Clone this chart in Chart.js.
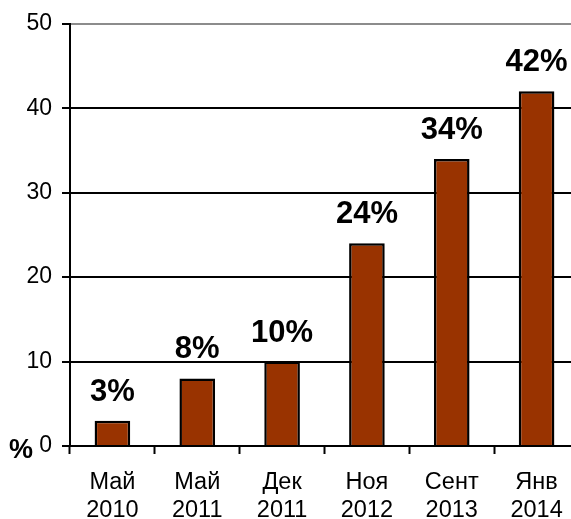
<!DOCTYPE html>
<html>
<head>
<meta charset="utf-8">
<script src="https://cdn.jsdelivr.net/npm/chart.js@4"></script>
<style>
  html, body { margin: 0; padding: 0; background: #fff; overflow: hidden; }
  #wrap { width: 579px; height: 519px; position: relative; }
</style>
</head>
<body>
<div id="wrap"><canvas id="chart"></canvas></div>
<script>
const categories = [['Май', '2010'], ['Май', '2011'], ['Дек', '2011'], ['Ноя', '2012'], ['Сент', '2013'], ['Янв', '2014']];
const values = [3, 8, 10, 24, 34, 42];
const valueLabels = ['3%', '8%', '10%', '24%', '34%', '42%'];
const yTicks = [0, 10, 20, 30, 40, 50];

const fontFamily = "Arial, 'Liberation Sans', sans-serif";

// labels above the bars + the "%" unit near the origin
const labelPlugin = {
    id: 'labelPlugin',
    afterDatasetsDraw(chart) {
        const ctx = chart.ctx;
        const meta = chart.getDatasetMeta(0);
        ctx.save();
        ctx.fillStyle = '#000';
        ctx.font = 'bold 31px ' + fontFamily;
        ctx.textAlign = 'center';
        ctx.textBaseline = 'alphabetic';
        meta.data.forEach((bar, i) => {
            ctx.fillText(valueLabels[i], bar.x, bar.y - 20);
        });
        const y0 = chart.scales.y.getPixelForValue(0);
        ctx.font = 'bold 27px ' + fontFamily;
        ctx.textAlign = 'left';
        ctx.fillText('%', 9, y0 + 12);
        ctx.restore();
    }
};

new Chart(document.getElementById('chart'), {
    type: 'bar',
    data: {
        labels: categories,
        datasets: [{
            data: values,
            backgroundColor: '#993300',
            borderColor: '#000',
            borderWidth: 2.5,
            barPercentage: 0.42,
            categoryPercentage: 1
        }]
    },
    options: {
        responsive: true,
        maintainAspectRatio: false,
        animation: false,
        layout: { padding: { top: 19, right: 0, left: 0, bottom: 0 } },
        plugins: { legend: { display: false }, tooltip: { enabled: false } },
        scales: {
            x: {
                offset: true,
                grid: {
                    offset: true,
                    drawOnChartArea: false,
                    tickLength: 8,
                    tickColor: '#000',
                    tickWidth: 2
                },
                border: { color: '#000', width: 2 },
                ticks: {
                    color: '#000',
                    font: { family: fontFamily, size: 23.5, lineHeight: 1.19 },
                    padding: 15,
                    maxRotation: 0
                },
                afterFit(scale) { scale.height = 73; }
            },
            y: {
                min: 0,
                max: 50,
                afterBuildTicks(scale) { scale.ticks = yTicks.map(v => ({ value: v })); },
                grid: {
                    color: ctx => (ctx.tick && ctx.tick.value === 50 ? '#8c8c8c' : '#000'),
                    lineWidth: 2,
                    tickLength: 8,
                    tickColor: '#000',
                    tickWidth: 2
                },
                border: { color: '#000', width: 2 },
                ticks: {
                    color: '#000',
                    font: { family: fontFamily, size: 23 },
                    padding: 10
                },
                afterFit(scale) { scale.width = 70; }
            }
        }
    },
    plugins: [labelPlugin]
});
</script>
</body>
</html>
